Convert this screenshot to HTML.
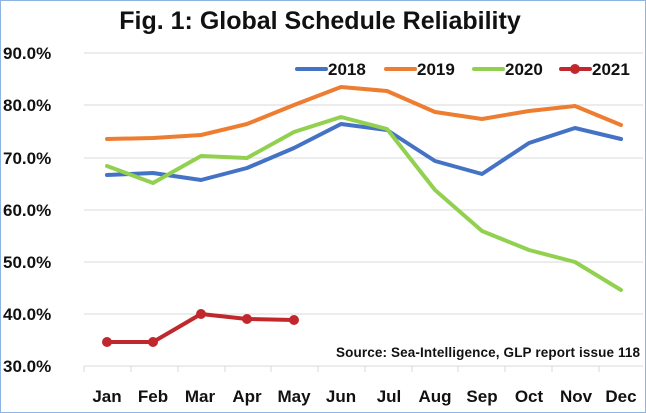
<!DOCTYPE html>
<html><head><style>
body{margin:0;background:#fff}
svg{display:block}
text{font-family:"Liberation Sans",sans-serif;font-weight:bold;fill:#111}
</style></head><body>
<svg width="646" height="413" viewBox="0 0 646 413">
<rect x="0.5" y="0.5" width="645" height="412" fill="#fff" stroke="#8eb4e3"/>
<text x="320" y="29" font-size="25" text-anchor="middle">Fig. 1: Global Schedule Reliability</text>
<g stroke="#d9d9d9" stroke-width="1">
<line x1="84" y1="53" x2="643" y2="53"/><line x1="84" y1="105" x2="643" y2="105"/>
<line x1="84" y1="158" x2="643" y2="158"/><line x1="84" y1="210" x2="643" y2="210"/>
<line x1="84" y1="262" x2="643" y2="262"/><line x1="84" y1="314" x2="643" y2="314"/>
<line x1="84" y1="366" x2="643" y2="366"/>
<line x1="84" y1="366" x2="84" y2="372"/><line x1="131" y1="366" x2="131" y2="372"/><line x1="178" y1="366" x2="178" y2="372"/><line x1="225" y1="366" x2="225" y2="372"/><line x1="271" y1="366" x2="271" y2="372"/><line x1="318" y1="366" x2="318" y2="372"/><line x1="365" y1="366" x2="365" y2="372"/><line x1="412" y1="366" x2="412" y2="372"/><line x1="458" y1="366" x2="458" y2="372"/><line x1="505" y1="366" x2="505" y2="372"/><line x1="552" y1="366" x2="552" y2="372"/><line x1="599" y1="366" x2="599" y2="372"/>
</g>
<g font-size="17">
<text x="3" y="59">90.0%</text><text x="3" y="111">80.0%</text><text x="3" y="164">70.0%</text>
<text x="3" y="216">60.0%</text><text x="3" y="268">50.0%</text><text x="3" y="320">40.0%</text><text x="3" y="372">30.0%</text>
</g>
<g font-size="17" text-anchor="middle">
<text x="107" y="402">Jan</text><text x="153" y="402">Feb</text><text x="200" y="402">Mar</text><text x="247" y="402">Apr</text><text x="294" y="402">May</text><text x="341" y="402">Jun</text><text x="389" y="402">Jul</text><text x="435" y="402">Aug</text><text x="482" y="402">Sep</text><text x="529" y="402">Oct</text><text x="576" y="402">Nov</text><text x="621" y="402">Dec</text>
</g>
<g fill="none" stroke-width="4" stroke-linejoin="round" stroke-linecap="round">
<polyline stroke="#ed7d31" points="107,139 153,138 201,135 247,124 294,105 341,87 387,91 435,112 482,119 529,111 575,106 621,125"/>
<polyline stroke="#4472c4" points="107,175 153,173 201,180 247,168 294,148 341,124 387,130 435,161 482,174 529,143 575,128 621,139"/>
<polyline stroke="#92d050" points="107,166 153,183 201,156 247,158 294,132 341,117 387,129 435,190 482,231 529,250 575,262 621,290"/>
<polyline stroke="#c0282d" points="107,342 153,342 201,314 247,319 294,320"/>
</g>
<g fill="#c0282d"><circle cx="107" cy="342" r="5"/><circle cx="153" cy="342" r="5"/><circle cx="201" cy="314" r="5"/><circle cx="247" cy="319" r="5"/><circle cx="294" cy="320" r="5"/></g>
<g stroke-width="4" stroke-linecap="round">
<line x1="297" y1="69" x2="326" y2="69" stroke="#4472c4"/>
<line x1="386" y1="69" x2="415" y2="69" stroke="#ed7d31"/>
<line x1="474" y1="69" x2="503" y2="69" stroke="#92d050"/>
<line x1="561" y1="69" x2="590" y2="69" stroke="#c0282d"/>
</g>
<circle cx="575" cy="69" r="5" fill="#c0282d"/>
<g font-size="17"><text x="328" y="75">2018</text><text x="417" y="75">2019</text><text x="505" y="75">2020</text><text x="592" y="75">2021</text></g>
<text x="336" y="357" font-size="13.5" textLength="304">Source: Sea-Intelligence, GLP report issue 118</text>
</svg>
</body></html>
